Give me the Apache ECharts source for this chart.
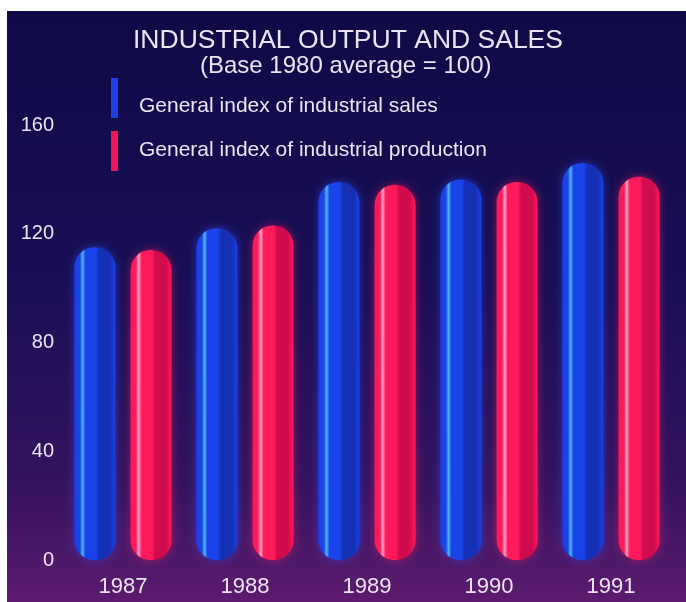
<!DOCTYPE html>
<html>
<head>
<meta charset="utf-8">
<script src="https://cdn.jsdelivr.net/npm/echarts@6/dist/echarts.min.js"></script>
<style>
  html, body { margin: 0; padding: 0; background: #fff; }
  #chart { width: 686px; height: 602px; }
</style>
</head>
<body>
<div id="chart"></div>
<script>
// data
const years = ['1987', '1988', '1989', '1990', '1991']
const salesIndex = [115, 122, 139, 140, 146]
const productionIndex = [114, 123, 138, 139, 141]
const seriesNames = ['General index of industrial sales', 'General index of industrial production']

const font = '"Liberation Sans", Arial, Helvetica, sans-serif'
const textColor = '#ece4f2'

// glossy tube look: horizontal gradient across each bar
function tube(edge, light, main, dark) {
	return new echarts.graphic.LinearGradient(0, 0, 1, 0, [
		{ offset: 0, color: edge },
		{ offset: 0.13, color: main },
		{ offset: 0.2, color: light },
		{ offset: 0.27, color: main },
		{ offset: 0.52, color: main },
		{ offset: 0.6, color: dark },
		{ offset: 0.86, color: dark },
		{ offset: 1, color: edge },
	])
}

// one legend per series so each label can sit where the picture has it
function legendItem(name, color, top, textPad) {
	return {
		orient: 'vertical',
		left: 111,
		top: top,
		padding: 0,
		itemWidth: 7,
		itemHeight: 40,
		icon: 'rect',
		selectedMode: false,
		formatter: '{t|{name}}',
		textStyle: {
			color: textColor,
			fontFamily: font,
			fontSize: 21,
			rich: { t: { color: textColor, fontFamily: font, fontSize: 21, padding: textPad } },
		},
		data: [{ name: name, itemStyle: { color: color } }],
	}
}

const chart = echarts.init(document.getElementById('chart'))

chart.setOption({
	backgroundColor: '#ffffff',
	animation: false,
	graphic: [
		{
			type: 'rect',
			silent: true,
			z: -10,
			shape: { x: 7, y: 11, width: 679, height: 591 },
			style: {
				fill: new echarts.graphic.LinearGradient(0, 0, 0, 1, [
					{ offset: 0, color: '#0f0a46' },
					{ offset: 0.45, color: '#190e55' },
					{ offset: 0.8, color: '#35135f' },
					{ offset: 1, color: '#5c1b6e' },
				]),
			},
		},
	],
	title: [
		{
			text: 'INDUSTRIAL OUTPUT AND SALES',
			left: 133,
			top: 27,
			padding: 0,
			textStyle: { color: textColor, fontFamily: font, fontSize: 26.5, fontWeight: 'normal' },
		},
		{
			text: '(Base 1980 average = 100)',
			left: 200,
			top: 54,
			padding: 0,
			textStyle: { color: textColor, fontFamily: font, fontSize: 24, fontWeight: 'normal' },
		},
	],
	legend: [
		legendItem(seriesNames[0], '#1d40e2', 78, [16, 0, 0, 16]),
		legendItem(seriesNames[1], '#f0145a', 131, [0, 0, 2, 16]),
	],
	grid: {
		left: 62,
		right: 14,
		top: 125,
		bottom: 42,
	},
	xAxis: {
		type: 'category',
		data: years,
		axisLine: { show: false },
		axisTick: { show: false },
		axisLabel: { color: textColor, fontFamily: font, fontSize: 22, margin: 16 },
	},
	yAxis: {
		type: 'value',
		min: 0,
		max: 160,
		interval: 40,
		axisLine: { show: false },
		axisTick: { show: false },
		splitLine: { show: false },
		axisLabel: { color: textColor, fontFamily: font, fontSize: 20, margin: 8 },
	},
	series: [
		{
			name: seriesNames[0],
			type: 'bar',
			data: salesIndex,
			barWidth: 41,
			barGap: '37%',
			itemStyle: {
				color: tube('#1a40e6', '#4fb0ff', '#1a44ea', '#1430b4'),
				borderRadius: 20,
				shadowBlur: 8,
				shadowColor: 'rgba(40,80,255,0.55)',
			},
		},
		{
			name: seriesNames[1],
			type: 'bar',
			data: productionIndex,
			barWidth: 41,
			barGap: '37%',
			itemStyle: {
				color: tube('#ff1858', '#ffa0c8', '#ff1a5c', '#d00c4e'),
				borderRadius: 20,
				shadowBlur: 8,
				shadowColor: 'rgba(255,30,90,0.5)',
			},
		},
	],
})
</script>
</body>
</html>
